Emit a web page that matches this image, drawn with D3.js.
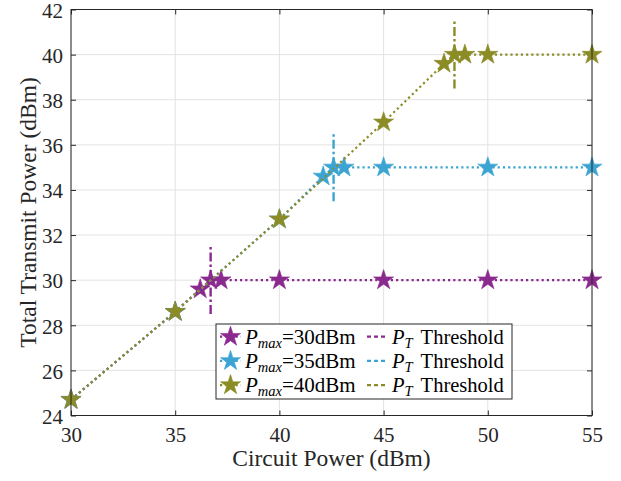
<!DOCTYPE html>
<html>
<head>
<meta charset="utf-8">
<script src="https://cdn.jsdelivr.net/npm/d3@7"></script>
<style>
  html, body { margin: 0; padding: 0; background: #fff; }
  svg { display: block; }
</style>
</head>
<body>
<svg id="chart"></svg>
<script>
// Circuit power (dBm) vs total transmit power (dBm), one series per P_max
const circuitP30 = [30, 35, 36.2, 36.7, 37.2, 40, 45, 50, 55];
const transmitP30 = [24.7, 28.6, 29.6, 30, 30, 30, 30, 30, 30];
const circuitP35 = [30, 35, 40, 42.1, 42.6, 43.1, 45, 50, 55];
const transmitP35 = [24.7, 28.6, 32.7, 34.6, 35, 35, 35, 35, 35];
const circuitP40 = [30, 35, 40, 45, 47.9, 48.4, 48.9, 50, 55];
const transmitP40 = [24.7, 28.6, 32.7, 37, 39.6, 40, 40, 40, 40];

const pmaxLabels = ['30', '35', '40'];
const pmaxValues = [30, 35, 40];
const thresholdX = [36.7, 42.6, 48.4];
const thresholdHalf = 1.5;

const xTicks = [30, 35, 40, 45, 50, 55];
const yTicks = [24, 26, 28, 30, 32, 34, 36, 38, 40, 42];

const colors = ['#8b2a8e', '#3ba4d2', '#8c8c27'];
const serif = '"Liberation Serif", "Times New Roman", serif';

const width = 621, height = 481;
const margin = {top: 9.5, right: 29, bottom: 65.5, left: 71};

const series = [
  {x: circuitP30, y: transmitP30},
  {x: circuitP35, y: transmitP35},
  {x: circuitP40, y: transmitP40}
].map((s, k) => ({pts: s.x.map((v, i) => [v, s.y[i]]), color: colors[k]}));

const svg = d3.select('#chart')
  .attr('width', width)
  .attr('height', height)
  .attr('viewBox', [0, 0, width, height])
  .style('font-family', serif);

const xScale = d3.scaleLinear([30, 55], [margin.left, width - margin.right]);
const yScale = d3.scaleLinear([24, 42], [height - margin.bottom, margin.top]);
const [x0, x1] = xScale.range();
const [y0, y1] = yScale.range();

// Grid
const grid = svg.append('g').attr('stroke', '#e3e3e3').attr('stroke-width', 1);
grid.selectAll('.gx').data(xTicks).join('line')
  .attr('x1', d => xScale(d)).attr('x2', d => xScale(d))
  .attr('y1', y0).attr('y2', y1);
grid.selectAll('.gy').data(yTicks).join('line')
  .attr('y1', d => yScale(d)).attr('y2', d => yScale(d))
  .attr('x1', x0).attr('x2', x1);

// Axes (inward ticks on all four sides)
const tickLen = 5;
const axisStyle = g => {
  g.attr('font-family', null).style('font-family', serif);
  g.select('.domain').remove();
  g.selectAll('.tick line').attr('stroke', '#262626');
  g.selectAll('.tick text').attr('fill', '#262626')
    .style('font-family', serif).style('font-size', '21px');
};
svg.append('g').attr('transform', `translate(0,${y0})`)
  .call(d3.axisBottom(xScale).tickValues(xTicks).tickSizeInner(-tickLen).tickSizeOuter(0).tickPadding(12))
  .call(axisStyle);
svg.append('g').attr('transform', `translate(0,${y1})`)
  .call(d3.axisTop(xScale).tickValues(xTicks).tickSizeInner(-tickLen).tickSizeOuter(0).tickFormat(''))
  .call(axisStyle);
svg.append('g').attr('transform', `translate(${x0},0)`)
  .call(d3.axisLeft(yScale).tickValues(yTicks).tickSizeInner(-tickLen).tickSizeOuter(0).tickPadding(8))
  .call(axisStyle)
  .call(g => g.selectAll('.tick text').attr('dy', '0.37em'));
svg.append('g').attr('transform', `translate(${x1},0)`)
  .call(d3.axisRight(yScale).tickValues(yTicks).tickSizeInner(-tickLen).tickSizeOuter(0).tickFormat(''))
  .call(axisStyle);

// Series lines + star markers
const line = d3.line().x(d => xScale(d[0])).y(d => yScale(d[1]));
const star = d3.symbol(d3.symbolStar, 125);

series.forEach(s => {
  const g = svg.append('g');
  g.append('path')
    .attr('d', line(s.pts))
    .attr('fill', 'none')
    .attr('stroke', s.color)
    .attr('stroke-width', 2.2)
    .attr('stroke-dasharray', '2.2,3');
  g.selectAll('path.mk').data(s.pts).join('path')
    .attr('class', 'mk')
    .attr('transform', d => `translate(${xScale(d[0])},${yScale(d[1])})`)
    .attr('d', star)
    .attr('fill', s.color)
    .attr('stroke', s.color)
    .attr('stroke-width', 0.6);
});

// Threshold markers (dash-dot vertical segments)
svg.append('g').selectAll('line').data(thresholdX).join('line')
  .attr('x1', d => xScale(d)).attr('x2', d => xScale(d))
  .attr('y1', (d, i) => yScale(pmaxValues[i] - thresholdHalf))
  .attr('y2', (d, i) => yScale(pmaxValues[i] + thresholdHalf))
  .attr('stroke', (d, i) => colors[i])
  .attr('stroke-width', 2.4)
  .attr('stroke-dasharray', '9,3,2.5,3');

// Plot box
svg.append('rect')
  .attr('x', x0).attr('y', y1)
  .attr('width', x1 - x0).attr('height', y0 - y1)
  .attr('fill', 'none').attr('stroke', '#262626').attr('stroke-width', 1);

// Axis labels
svg.append('text')
  .attr('x', (x0 + x1) / 2).attr('y', 466)
  .attr('text-anchor', 'middle')
  .style('font-size', '23.5px').attr('fill', '#262626')
  .text('Circuit Power (dBm)');
svg.append('text')
  .attr('transform', `translate(36,${(y0 + y1) / 2}) rotate(-90)`)
  .attr('text-anchor', 'middle')
  .style('font-size', '23.5px').attr('fill', '#262626')
  .text('Total Transmit Power (dBm)');

// Legend
const legend = svg.append('g').attr('transform', 'translate(216,324)');
legend.append('rect')
  .attr('width', 296).attr('height', 75)
  .attr('fill', '#fff').attr('stroke', '#262626').attr('stroke-width', 1);
const rowH = 24.2, rowY0 = 12.7;
pmaxLabels.forEach((lab, i) => {
  const cy = rowY0 + i * rowH;
  const row = legend.append('g').attr('transform', `translate(0,${cy})`);
  row.append('line').attr('x1', 4).attr('x2', 25).attr('y1', 0).attr('y2', 0)
    .attr('stroke', colors[i]).attr('stroke-width', 2.2).attr('stroke-dasharray', '2.2,3');
  row.append('path').attr('transform', 'translate(14.5,0)').attr('d', star)
    .attr('fill', colors[i]).attr('stroke', colors[i]).attr('stroke-width', 0.6);
  const t1 = row.append('text').attr('x', 29).attr('y', 7)
    .style('font-size', '21px').attr('fill', '#000');
  t1.append('tspan').style('font-style', 'italic').text('P');
  t1.append('tspan').style('font-style', 'italic').style('font-size', '14.5px').attr('dy', 4).text('max');
  t1.append('tspan').attr('dy', -4).text('=' + lab + 'dBm');

  row.append('line').attr('x1', 151).attr('x2', 172).attr('y1', 0).attr('y2', 0)
    .attr('stroke', colors[i]).attr('stroke-width', 2.2).attr('stroke-dasharray', '4,3');
  const t2 = row.append('text').attr('x', 176).attr('y', 7)
    .style('font-size', '20.5px').attr('fill', '#000');
  t2.append('tspan').style('font-style', 'italic').text('P');
  t2.append('tspan').style('font-style', 'italic').style('font-size', '14.5px').attr('dy', 4).text('T');
  t2.append('tspan').attr('dy', -4).attr('dx', 8).text('Threshold');
});
</script>
</body>
</html>
